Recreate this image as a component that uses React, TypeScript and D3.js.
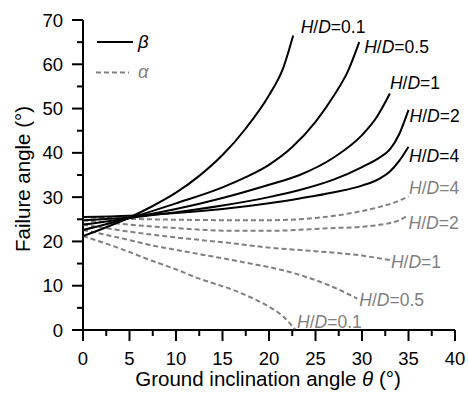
import React from "react";
import * as d3 from "d3";

// ---- data ----
const xTicksMajor = [0, 5, 10, 15, 20, 25, 30, 35, 40];
const xTicksMinor = [2.5, 7.5, 12.5, 17.5, 22.5, 27.5, 32.5, 37.5];
const yTicksMajor = [0, 10, 20, 30, 40, 50, 60, 70];
const yTicksMinor = [5, 15, 25, 35, 45, 55, 65];

const beta01x = [0, 2.5, 5, 7.5, 10, 12.5, 15, 17.5, 20, 21.5, 22.6];
const beta01y = [21.2, 23.2, 25.4, 28, 31, 34.8, 39.5, 45.5, 53, 59, 66.5];
const beta05x = [0, 5, 10, 15, 17.5, 20, 22.5, 25, 27, 28.5, 29.7];
const beta05y = [22.6, 25.3, 28.6, 32.2, 34.5, 37.3, 41.3, 47, 53, 58.5, 65];
const beta1x = [0, 5, 10, 15, 20, 23.3, 27, 30, 31.5, 33];
const beta1y = [23.8, 25.3, 27.3, 29.8, 32.8, 35, 39, 44, 47.8, 53.4];
const beta2x = [0, 5, 10, 15, 20, 23.3, 27, 30, 32, 33, 34, 35];
const beta2y = [24.8, 25.4, 26.6, 28.1, 30, 31.6, 34, 36.8, 39.1, 40.8, 44.2, 49.7];
const beta4x = [0, 5, 10, 15, 20, 23.3, 27, 30, 32, 33, 34, 35];
const beta4y = [25.5, 25.8, 26.4, 27.3, 28.6, 29.7, 31.1, 32.6, 34.3, 35.8, 38.2, 41.4];

const alpha4x = [0, 5, 10, 15.8, 20, 25, 28, 31.9, 33.5, 35];
const alpha4y = [25.5, 25.1, 24.9, 24.8, 24.8, 25.3, 26.1, 27.8, 28.8, 30.2];
const alpha2x = [0, 5, 10, 16, 20, 26.6, 30, 32, 34, 35];
const alpha2y = [24.8, 23.8, 23.0, 22.4, 22.4, 23, 23.3, 23.8, 24.8, 26];
const alpha1x = [0, 5, 10, 16, 20, 25, 30, 33];
const alpha1y = [23.8, 22.2, 20.9, 19.6, 18.6, 17.8, 16.8, 15.8];
const alpha05x = [0, 5, 7.2, 10, 16, 18, 20, 24.4, 27, 29.5];
const alpha05y = [22.6, 20.3, 19.2, 18.1, 15.8, 15, 14.2, 11.7, 9.6, 7.1];
const alpha01x = [0, 2.5, 5, 7.2, 10, 12.5, 14.4, 16.2, 18, 19.7, 21.5, 22.8];
const alpha01y = [21.2, 19.5, 17.6, 15.8, 13.7, 11.6, 10.3, 9.0, 7.4, 5.6, 3.1, 0.2];

const betaSeries = [
  { r: "0.1", xs: beta01x, ys: beta01y },
  { r: "0.5", xs: beta05x, ys: beta05y },
  { r: "1", xs: beta1x, ys: beta1y },
  { r: "2", xs: beta2x, ys: beta2y },
  { r: "4", xs: beta4x, ys: beta4y },
];
const alphaSeries = [
  { r: "0.1", xs: alpha01x, ys: alpha01y },
  { r: "0.5", xs: alpha05x, ys: alpha05y },
  { r: "1", xs: alpha1x, ys: alpha1y },
  { r: "2", xs: alpha2x, ys: alpha2y },
  { r: "4", xs: alpha4x, ys: alpha4y },
];

// label offsets (pixels relative to the series end point)
const betaLabelOffset: Record<string, [number, number]> = {
  "0.1": [7.5, -2.5],
  "0.5": [5, 10.5],
  "1": [0, -5],
  "2": [1, 12],
  "4": [0.5, 15],
};
const alphaLabelOffset: Record<string, [number, number]> = {
  "0.1": [2, -1],
  "0.5": [2, 7],
  "1": [1, 8],
  "2": [0, 14.4],
  "4": [0.5, -2],
};

const W = 468;
const H = 394;
const FONT = "'Liberation Sans', Arial, Helvetica, sans-serif";
const GRAY = "#808080";

export default function App() {
  const x = d3.scaleLinear().domain([0, 40]).range([83, 455]);
  const y = d3.scaleLinear().domain([0, 70]).range([330, 20]);
  const line = d3
    .line<[number, number]>()
    .x((d) => x(d[0]))
    .y((d) => y(d[1]))
    .curve(d3.curveMonotoneX);

  const pts = (xs: number[], ys: number[]) =>
    xs.map((v, i) => [v, ys[i]] as [number, number]);

  const label = (r: string, px: number, py: number, color: string, key: string) => (
    <text key={key} x={px} y={py} fill={color} fontSize={17.5} fontFamily={FONT}>
      <tspan fontStyle="italic">H</tspan>
      <tspan>/</tspan>
      <tspan fontStyle="italic">D</tspan>
      <tspan>={r}</tspan>
    </text>
  );

  return (
    <svg
      width={W}
      height={H}
      style={{ position: "absolute", left: 0, top: 0, background: "#fff" }}
    >
      <rect width={W} height={H} fill="#fff" />
      {/* axes */}
      <line x1={x(0)} x2={x(0)} y1={y(0)} y2={y(70)} stroke="#000" strokeWidth={2} />
      <line x1={x(0) - 1} x2={x(40)} y1={y(0)} y2={y(0)} stroke="#000" strokeWidth={2} />
      {yTicksMajor.map((t) => (
        <g key={"ym" + t}>
          <line x1={x(0) - 11} x2={x(0)} y1={y(t)} y2={y(t)} stroke="#000" strokeWidth={2} />
          <text
            x={x(0) - 20}
            y={y(t) + 6.5}
            textAnchor="end"
            fontSize={18.5}
            fontFamily={FONT}
          >
            {t}
          </text>
        </g>
      ))}
      {yTicksMinor.map((t) => (
        <line key={"yn" + t} x1={x(0) - 6} x2={x(0)} y1={y(t)} y2={y(t)} stroke="#000" strokeWidth={2} />
      ))}
      {xTicksMajor.map((t) => (
        <g key={"xm" + t}>
          <line x1={x(t)} x2={x(t)} y1={y(0)} y2={y(0) + 11} stroke="#000" strokeWidth={2} />
          <text x={x(t)} y={365} textAnchor="middle" fontSize={18.5} fontFamily={FONT}>
            {t}
          </text>
        </g>
      ))}
      {xTicksMinor.map((t) => (
        <line key={"xn" + t} x1={x(t)} x2={x(t)} y1={y(0)} y2={y(0) + 6} stroke="#000" strokeWidth={2} />
      ))}
      {/* axis titles */}
      <text x={268} y={386} textAnchor="middle" fontSize={20.5} fontFamily={FONT}>
        Ground inclination angle <tspan fontStyle="italic">θ</tspan> (°)
      </text>
      <text
        transform={`translate(29.5,${179}) rotate(-90)`}
        textAnchor="middle"
        fontSize={20.5}
        fontFamily={FONT}
      >
        Failure angle (°)
      </text>

      {/* alpha curves */}
      {alphaSeries.map((s) => (
        <path
          key={"a" + s.r}
          d={line(pts(s.xs, s.ys)) || ""}
          fill="none"
          stroke={GRAY}
          strokeWidth={2}
          strokeDasharray="5,3"
        />
      ))}
      {/* beta curves */}
      {betaSeries.map((s) => (
        <path
          key={"b" + s.r}
          d={line(pts(s.xs, s.ys)) || ""}
          fill="none"
          stroke="#000"
          strokeWidth={2}
        />
      ))}
      {/* labels */}
      {betaSeries.map((s) => {
        const n = s.xs.length - 1;
        const o = betaLabelOffset[s.r];
        return label(s.r, x(s.xs[n]) + o[0], y(s.ys[n]) + o[1], "#000", "bl" + s.r);
      })}
      {alphaSeries.map((s) => {
        const n = s.xs.length - 1;
        const o = alphaLabelOffset[s.r];
        return label(s.r, x(s.xs[n]) + o[0], y(s.ys[n]) + o[1], GRAY, "al" + s.r);
      })}

      {/* legend */}
      <line x1={97} x2={133} y1={42} y2={42} stroke="#000" strokeWidth={2} />
      <text x={138} y={48} fontSize={18.5} fontStyle="italic" fontFamily={FONT}>
        β
      </text>
      <line x1={96} x2={129} y1={72.5} y2={72.5} stroke={GRAY} strokeWidth={2} strokeDasharray="5,3" />
      <text x={138} y={78} fontSize={18.5} fontStyle="italic" fontFamily={FONT} fill={GRAY}>
        α
      </text>
    </svg>
  );
}
